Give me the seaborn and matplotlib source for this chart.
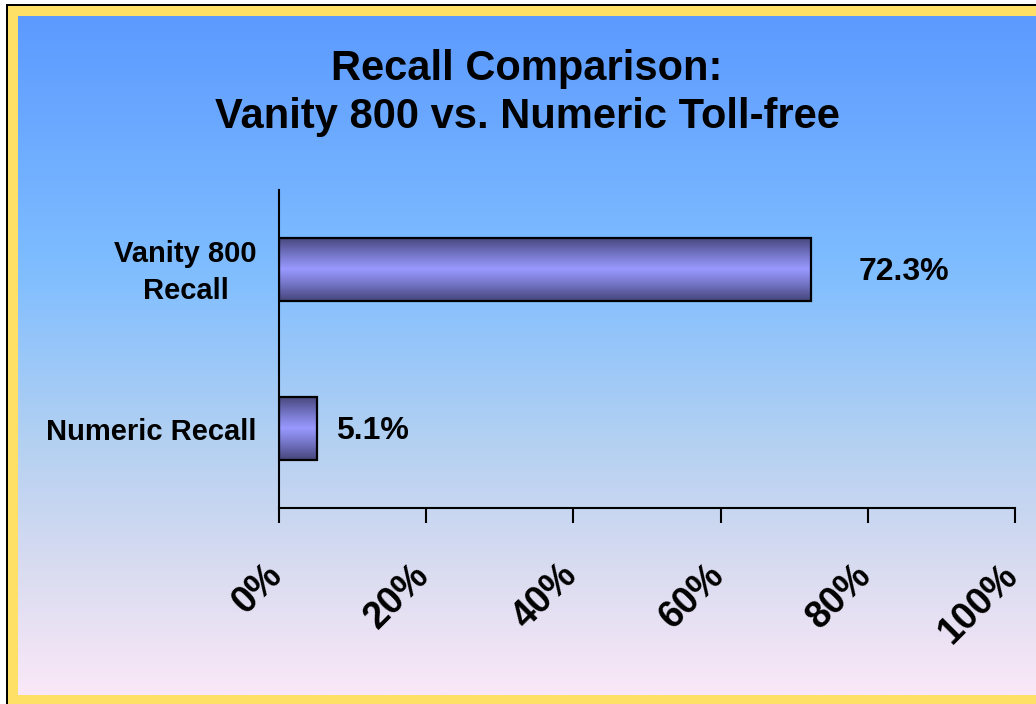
import numpy as np
import pandas as pd
import matplotlib
matplotlib.use("Agg")
import matplotlib.pyplot as plt
import matplotlib.transforms as mtransforms
from matplotlib.colors import LinearSegmentedColormap
from matplotlib.patches import Rectangle
import seaborn as sns

# data
categories = ["Vanity 800\nRecall", "Numeric Recall"]
recall = [72.3, 5.1]
value_labels = ["72.3%", "5.1%"]
x_ticks = [0, 20, 40, 60, 80, 100]
x_ticklabels = ["0%", "20%", "40%", "60%", "80%", "100%"]

df = pd.DataFrame({"cat": categories, "recall": recall})

sns.set_style("white")
plt.rcParams["font.family"] = ["Liberation Sans", "DejaVu Sans"]
plt.rcParams["font.weight"] = "bold"
plt.rcParams["text.color"] = "black"
plt.rcParams["xtick.color"] = "black"
plt.rcParams["ytick.color"] = "black"
plt.rcParams["axes.labelcolor"] = "black"

W, H = 1036, 704
fig = plt.figure(figsize=(W / 100, H / 100), dpi=100)
fig.patch.set_facecolor("white")

# frame: black line, yellow border
fig.patches.append(Rectangle((6 / W, -0.1), 1.2, (H - 4) / H + 0.1,
                             transform=fig.transFigure, facecolor="black",
                             edgecolor="none", zorder=-10))
fig.patches.append(Rectangle((8 / W, -0.1), 1.2, (H - 6) / H + 0.1,
                             transform=fig.transFigure, facecolor="#FFE066",
                             edgecolor="none", zorder=-9))

# gradient background
bg = fig.add_axes([18 / W, 9 / H, (W - 18) / W, (695 - 16) / H])
bg_cmap = LinearSegmentedColormap.from_list(
    "bg", [(0.0, "#5C9AFF"), (0.38, "#80BEFF"), (0.62, "#B2D0F2"),
           (0.82, "#DADCF0"), (1.0, "#FAE8F8")])
grad = np.linspace(0, 1, 256).reshape(-1, 1)
bg.imshow(grad, aspect="auto", cmap=bg_cmap, extent=[0, 1, 1, 0])
bg.set_axis_off()

# main axes
ax = fig.add_axes([279 / W, (H - 508) / H, 736 / W, 318 / H])
ax.patch.set_alpha(0)
sns.barplot(data=df, x="recall", y="cat", orient="h", width=0.4,
            color="#9999FF", edgecolor="black", linewidth=1.6, ax=ax)

# bar gradient
bar_cmap = LinearSegmentedColormap.from_list(
    "bar", [(0.0, "#45457A"), (0.3, "#7A7AD0"), (0.5, "#9999FF"),
            (0.7, "#7A7AD0"), (1.0, "#45457A")])
for p in ax.patches:
    x0, y0 = p.get_x(), p.get_y()
    w, h = p.get_width(), p.get_height()
    im = ax.imshow(grad, aspect="auto", cmap=bar_cmap,
                   extent=[x0, x0 + w, y0 + h, y0], zorder=p.get_zorder() - 0.1)
    im.set_clip_path(p)
    p.set_facecolor("none")

ax.set_xlim(0, 100)
ax.set_ylim(1.5, -0.5)

# value labels
offsets = [47, 19]
for i, (v, lab) in enumerate(zip(recall, value_labels)):
    ax.annotate(lab, xy=(v, i), xytext=(offsets[i] * 0.72, -2),
                textcoords="offset points", ha="left", va="center",
                fontsize=23, fontweight="bold")

ax.set_xticks(x_ticks)
ax.set_xticklabels(x_ticklabels, rotation=45, ha="right", va="baseline",
                   rotation_mode="anchor", fontsize=27, fontweight="bold")
ax.tick_params(axis="x", direction="out", length=11, width=1.5,
               colors="black", pad=37, bottom=True)
ax.tick_params(axis="y", length=0, pad=16, labelsize=21)
shift_x = mtransforms.ScaledTranslation(0.05, -0.02, fig.dpi_scale_trans)
for t in ax.get_xticklabels():
    t.set_transform(t.get_transform() + shift_x)
for t in ax.get_yticklabels():
    t.set_fontweight("bold")
    t.set_multialignment("center")
    t.set_linespacing(1.4)
# two-line label sits slightly above the bar centre
first = ax.get_yticklabels()[0]
first.set_transform(first.get_transform()
                    + mtransforms.ScaledTranslation(0, 0.04, fig.dpi_scale_trans))
ax.set_xlabel("")
ax.set_ylabel("")
for s in ["top", "right"]:
    ax.spines[s].set_visible(False)
for s in ["left", "bottom"]:
    ax.spines[s].set_color("black")
    ax.spines[s].set_linewidth(1.5)

fig.text(527 / W, 1 - 93 / H, "Recall Comparison:\nVanity 800 vs. Numeric Toll-free",
         ha="center", va="center", fontsize=30, fontweight="bold",
         linespacing=1.25)

fig.savefig("out.png", dpi=100)
